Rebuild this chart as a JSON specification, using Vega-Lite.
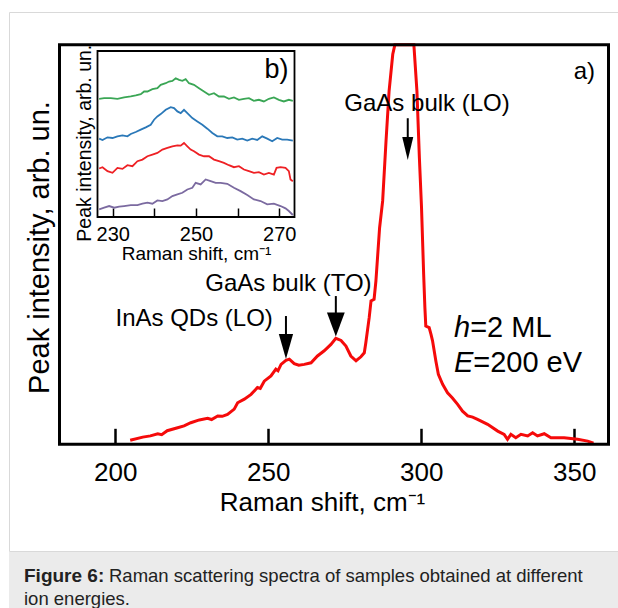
{
  "$schema": "https://vega.github.io/schema/vega-lite/v6.json",
  "padding": {"left": 8, "top": 11, "right": 0, "bottom": 0},
  "background": "white",
  "spacing": 0,
  "config": {
    "font": "Liberation Sans",
    "axis": {"labelColor": "black", "titleColor": "black", "titleFontWeight": "normal", "tickColor": "black", "labelFont": "Liberation Sans", "titleFont": "Liberation Sans"},
    "text": {"font": "Liberation Sans", "color": "black"}
  },
  "datasets": {
    "main": [
      {"shift": 204.9, "intensity": 1.0}, {"shift": 209.0, "intensity": 1.8}, {"shift": 211.5, "intensity": 2.1},
      {"shift": 213.9, "intensity": 2.65}, {"shift": 215.2, "intensity": 2.4}, {"shift": 217.0, "intensity": 3.4},
      {"shift": 220.4, "intensity": 4.15}, {"shift": 222.5, "intensity": 4.6}, {"shift": 224.7, "intensity": 5.4},
      {"shift": 227.5, "intensity": 6.1}, {"shift": 230.2, "intensity": 6.5}, {"shift": 231.5, "intensity": 6.2},
      {"shift": 233.5, "intensity": 7.1}, {"shift": 235.0, "intensity": 7.0}, {"shift": 236.7, "intensity": 7.5},
      {"shift": 238.9, "intensity": 8.8}, {"shift": 240.0, "intensity": 10.4}, {"shift": 242.2, "intensity": 11.3},
      {"shift": 244.4, "intensity": 12.5}, {"shift": 246.5, "intensity": 14.2}, {"shift": 247.4, "intensity": 14.0},
      {"shift": 248.7, "intensity": 15.8}, {"shift": 250.9, "intensity": 17.1}, {"shift": 252.5, "intensity": 18.8},
      {"shift": 253.2, "intensity": 18.4}, {"shift": 254.2, "intensity": 20.0}, {"shift": 255.8, "intensity": 21.0},
      {"shift": 256.9, "intensity": 21.3}, {"shift": 258.5, "intensity": 20.2}, {"shift": 260.0, "intensity": 19.8},
      {"shift": 261.8, "intensity": 20.0}, {"shift": 264.0, "intensity": 20.4}, {"shift": 266.1, "intensity": 22.1},
      {"shift": 268.3, "intensity": 23.4}, {"shift": 270.5, "intensity": 25.0}, {"shift": 272.1, "intensity": 26.5},
      {"shift": 273.8, "intensity": 26.0}, {"shift": 275.4, "intensity": 24.6}, {"shift": 277.0, "intensity": 22.1},
      {"shift": 278.7, "intensity": 20.9}, {"shift": 280.3, "intensity": 21.9}, {"shift": 281.4, "intensity": 22.9},
      {"shift": 281.9, "intensity": 25.4}, {"shift": 283.0, "intensity": 31.7}, {"shift": 283.6, "intensity": 35.9},
      {"shift": 284.6, "intensity": 36.3}, {"shift": 285.2, "intensity": 40.9}, {"shift": 286.4, "intensity": 54.2},
      {"shift": 287.4, "intensity": 60.9}, {"shift": 288.5, "intensity": 75.9}, {"shift": 289.5, "intensity": 88.4},
      {"shift": 290.7, "intensity": 97.6}, {"shift": 291.4, "intensity": 103.0}, {"shift": 294.5, "intensity": 125.0},
      {"shift": 297.6, "intensity": 104.0}, {"shift": 298.6, "intensity": 88.4}, {"shift": 299.4, "intensity": 71.7},
      {"shift": 300.1, "intensity": 59.2}, {"shift": 300.8, "intensity": 42.5}, {"shift": 301.2, "intensity": 34.2},
      {"shift": 301.5, "intensity": 29.6}, {"shift": 302.6, "intensity": 29.2}, {"shift": 303.2, "intensity": 27.5},
      {"shift": 303.7, "intensity": 25.9}, {"shift": 304.8, "intensity": 20.8}, {"shift": 305.6, "intensity": 17.5},
      {"shift": 307.0, "intensity": 15.0}, {"shift": 308.6, "intensity": 12.9}, {"shift": 310.2, "intensity": 11.6},
      {"shift": 311.9, "intensity": 10.0}, {"shift": 313.5, "intensity": 8.3}, {"shift": 315.2, "intensity": 7.1},
      {"shift": 316.8, "intensity": 6.8}, {"shift": 318.4, "intensity": 6.25}, {"shift": 321.7, "intensity": 5.0},
      {"shift": 325.0, "intensity": 3.3}, {"shift": 327.1, "intensity": 2.5}, {"shift": 328.2, "intensity": 1.25},
      {"shift": 329.3, "intensity": 2.5}, {"shift": 330.9, "intensity": 1.65}, {"shift": 332.6, "intensity": 2.5},
      {"shift": 334.8, "intensity": 2.1}, {"shift": 336.4, "intensity": 2.9}, {"shift": 338.0, "intensity": 2.1},
      {"shift": 340.2, "intensity": 2.65}, {"shift": 342.4, "intensity": 1.65}, {"shift": 346.7, "intensity": 1.65},
      {"shift": 351.1, "intensity": 1.25}, {"shift": 354.4, "intensity": 0.8}, {"shift": 356.3, "intensity": 0.3}
    ],
    "inset": [
      {"sample": "s1", "shift": 226.75, "value": 71.2}, {"sample": "s1", "shift": 227.95, "value": 71.6},
      {"sample": "s1", "shift": 229.55, "value": 71.6}, {"sample": "s1", "shift": 231.14, "value": 71.2},
      {"sample": "s1", "shift": 232.74, "value": 72.0}, {"sample": "s1", "shift": 234.34, "value": 72.6},
      {"sample": "s1", "shift": 235.54, "value": 73.2}, {"sample": "s1", "shift": 236.74, "value": 74.0},
      {"sample": "s1", "shift": 237.54, "value": 75.6}, {"sample": "s1", "shift": 238.34, "value": 75.6},
      {"sample": "s1", "shift": 239.53, "value": 77.0}, {"sample": "s1", "shift": 240.73, "value": 77.6},
      {"sample": "s1", "shift": 241.53, "value": 79.6}, {"sample": "s1", "shift": 242.73, "value": 80.6},
      {"sample": "s1", "shift": 243.53, "value": 81.6}, {"sample": "s1", "shift": 244.33, "value": 82.0},
      {"sample": "s1", "shift": 245.13, "value": 83.6}, {"sample": "s1", "shift": 245.93, "value": 82.6},
      {"sample": "s1", "shift": 246.73, "value": 82.0}, {"sample": "s1", "shift": 247.52, "value": 83.0},
      {"sample": "s1", "shift": 248.32, "value": 80.6}, {"sample": "s1", "shift": 249.52, "value": 79.6},
      {"sample": "s1", "shift": 250.72, "value": 77.6}, {"sample": "s1", "shift": 251.92, "value": 75.6},
      {"sample": "s1", "shift": 253.12, "value": 73.6}, {"sample": "s1", "shift": 254.32, "value": 74.6},
      {"sample": "s1", "shift": 255.51, "value": 72.6}, {"sample": "s1", "shift": 256.71, "value": 72.6},
      {"sample": "s1", "shift": 257.91, "value": 71.2}, {"sample": "s1", "shift": 259.11, "value": 72.0},
      {"sample": "s1", "shift": 260.31, "value": 70.6}, {"sample": "s1", "shift": 261.51, "value": 71.2},
      {"sample": "s1", "shift": 262.71, "value": 71.6}, {"sample": "s1", "shift": 263.90, "value": 70.0},
      {"sample": "s1", "shift": 265.10, "value": 70.6}, {"sample": "s1", "shift": 266.30, "value": 69.6},
      {"sample": "s1", "shift": 267.50, "value": 71.2}, {"sample": "s1", "shift": 268.70, "value": 72.0},
      {"sample": "s1", "shift": 269.90, "value": 70.6}, {"sample": "s1", "shift": 271.09, "value": 69.6},
      {"sample": "s1", "shift": 272.29, "value": 70.6}, {"sample": "s1", "shift": 273.25, "value": 70.0},

      {"sample": "s2", "shift": 226.75, "value": 47.2}, {"sample": "s2", "shift": 227.55, "value": 46.4},
      {"sample": "s2", "shift": 228.75, "value": 48.0}, {"sample": "s2", "shift": 229.95, "value": 47.6},
      {"sample": "s2", "shift": 231.14, "value": 48.6}, {"sample": "s2", "shift": 232.34, "value": 49.2},
      {"sample": "s2", "shift": 233.54, "value": 48.6}, {"sample": "s2", "shift": 234.34, "value": 50.0},
      {"sample": "s2", "shift": 235.54, "value": 51.2}, {"sample": "s2", "shift": 236.74, "value": 52.6},
      {"sample": "s2", "shift": 237.94, "value": 54.0}, {"sample": "s2", "shift": 239.13, "value": 55.6},
      {"sample": "s2", "shift": 239.93, "value": 58.6}, {"sample": "s2", "shift": 240.73, "value": 60.6},
      {"sample": "s2", "shift": 241.53, "value": 62.0}, {"sample": "s2", "shift": 242.73, "value": 64.6},
      {"sample": "s2", "shift": 243.93, "value": 66.2}, {"sample": "s2", "shift": 244.73, "value": 65.6},
      {"sample": "s2", "shift": 245.53, "value": 63.6}, {"sample": "s2", "shift": 246.33, "value": 62.6},
      {"sample": "s2", "shift": 247.12, "value": 64.6}, {"sample": "s2", "shift": 247.92, "value": 62.6},
      {"sample": "s2", "shift": 249.12, "value": 59.6}, {"sample": "s2", "shift": 250.32, "value": 57.6},
      {"sample": "s2", "shift": 251.52, "value": 55.6}, {"sample": "s2", "shift": 252.72, "value": 53.2},
      {"sample": "s2", "shift": 253.92, "value": 50.6}, {"sample": "s2", "shift": 255.11, "value": 48.6},
      {"sample": "s2", "shift": 256.31, "value": 48.6}, {"sample": "s2", "shift": 257.51, "value": 47.6},
      {"sample": "s2", "shift": 258.71, "value": 48.0}, {"sample": "s2", "shift": 259.91, "value": 46.6},
      {"sample": "s2", "shift": 261.11, "value": 47.2}, {"sample": "s2", "shift": 262.31, "value": 46.0},
      {"sample": "s2", "shift": 263.50, "value": 47.2}, {"sample": "s2", "shift": 264.70, "value": 46.4},
      {"sample": "s2", "shift": 265.90, "value": 48.6}, {"sample": "s2", "shift": 267.10, "value": 47.2},
      {"sample": "s2", "shift": 268.30, "value": 45.6}, {"sample": "s2", "shift": 269.50, "value": 47.6},
      {"sample": "s2", "shift": 270.70, "value": 46.6}, {"sample": "s2", "shift": 271.89, "value": 46.6},
      {"sample": "s2", "shift": 273.25, "value": 46.0},

      {"sample": "s3", "shift": 226.75, "value": 29.2}, {"sample": "s3", "shift": 227.55, "value": 30.0},
      {"sample": "s3", "shift": 228.75, "value": 27.6}, {"sample": "s3", "shift": 229.95, "value": 26.6},
      {"sample": "s3", "shift": 231.14, "value": 29.6}, {"sample": "s3", "shift": 232.34, "value": 29.0},
      {"sample": "s3", "shift": 233.54, "value": 31.2}, {"sample": "s3", "shift": 234.74, "value": 30.6},
      {"sample": "s3", "shift": 235.94, "value": 33.6}, {"sample": "s3", "shift": 237.14, "value": 34.6},
      {"sample": "s3", "shift": 238.34, "value": 36.6}, {"sample": "s3", "shift": 239.53, "value": 37.6},
      {"sample": "s3", "shift": 240.73, "value": 38.6}, {"sample": "s3", "shift": 241.93, "value": 40.6},
      {"sample": "s3", "shift": 243.13, "value": 41.6}, {"sample": "s3", "shift": 244.33, "value": 42.6},
      {"sample": "s3", "shift": 245.53, "value": 43.2}, {"sample": "s3", "shift": 246.33, "value": 43.0},
      {"sample": "s3", "shift": 247.12, "value": 44.6}, {"sample": "s3", "shift": 247.92, "value": 42.6},
      {"sample": "s3", "shift": 248.72, "value": 40.6}, {"sample": "s3", "shift": 249.52, "value": 39.6},
      {"sample": "s3", "shift": 250.72, "value": 37.6}, {"sample": "s3", "shift": 251.92, "value": 36.6},
      {"sample": "s3", "shift": 253.12, "value": 36.6}, {"sample": "s3", "shift": 254.32, "value": 34.6},
      {"sample": "s3", "shift": 255.51, "value": 33.6}, {"sample": "s3", "shift": 256.71, "value": 32.6},
      {"sample": "s3", "shift": 257.91, "value": 31.2}, {"sample": "s3", "shift": 259.11, "value": 30.0},
      {"sample": "s3", "shift": 260.31, "value": 30.6}, {"sample": "s3", "shift": 261.51, "value": 28.6},
      {"sample": "s3", "shift": 262.71, "value": 27.6}, {"sample": "s3", "shift": 263.90, "value": 26.6},
      {"sample": "s3", "shift": 265.10, "value": 27.0}, {"sample": "s3", "shift": 266.30, "value": 25.6},
      {"sample": "s3", "shift": 267.50, "value": 26.6}, {"sample": "s3", "shift": 268.70, "value": 25.6},
      {"sample": "s3", "shift": 269.34, "value": 29.6}, {"sample": "s3", "shift": 270.30, "value": 30.0},
      {"sample": "s3", "shift": 271.49, "value": 29.6}, {"sample": "s3", "shift": 272.29, "value": 27.6},
      {"sample": "s3", "shift": 272.69, "value": 22.6}, {"sample": "s3", "shift": 273.25, "value": 21.6},

      {"sample": "s4", "shift": 226.75, "value": 4.6}, {"sample": "s4", "shift": 227.95, "value": 5.6},
      {"sample": "s4", "shift": 229.15, "value": 6.6}, {"sample": "s4", "shift": 230.35, "value": 5.6},
      {"sample": "s4", "shift": 231.54, "value": 6.2}, {"sample": "s4", "shift": 232.74, "value": 6.6},
      {"sample": "s4", "shift": 234.34, "value": 7.2}, {"sample": "s4", "shift": 235.94, "value": 7.2},
      {"sample": "s4", "shift": 237.14, "value": 8.0}, {"sample": "s4", "shift": 238.34, "value": 8.6},
      {"sample": "s4", "shift": 239.53, "value": 8.0}, {"sample": "s4", "shift": 240.73, "value": 10.0},
      {"sample": "s4", "shift": 241.93, "value": 9.6}, {"sample": "s4", "shift": 243.13, "value": 10.6},
      {"sample": "s4", "shift": 244.33, "value": 12.6}, {"sample": "s4", "shift": 245.53, "value": 13.6},
      {"sample": "s4", "shift": 246.73, "value": 14.6}, {"sample": "s4", "shift": 247.92, "value": 16.6},
      {"sample": "s4", "shift": 249.12, "value": 17.6}, {"sample": "s4", "shift": 249.92, "value": 20.6},
      {"sample": "s4", "shift": 251.12, "value": 19.6}, {"sample": "s4", "shift": 252.32, "value": 22.6},
      {"sample": "s4", "shift": 253.52, "value": 21.6}, {"sample": "s4", "shift": 254.72, "value": 20.6},
      {"sample": "s4", "shift": 255.91, "value": 20.6}, {"sample": "s4", "shift": 257.51, "value": 20.0},
      {"sample": "s4", "shift": 259.11, "value": 17.6}, {"sample": "s4", "shift": 260.71, "value": 15.6},
      {"sample": "s4", "shift": 262.31, "value": 13.2}, {"sample": "s4", "shift": 263.90, "value": 10.6},
      {"sample": "s4", "shift": 265.50, "value": 9.6}, {"sample": "s4", "shift": 267.10, "value": 7.6},
      {"sample": "s4", "shift": 268.70, "value": 8.0}, {"sample": "s4", "shift": 270.30, "value": 6.6},
      {"sample": "s4", "shift": 271.49, "value": 5.2}, {"sample": "s4", "shift": 272.29, "value": 3.6},
      {"sample": "s4", "shift": 273.25, "value": 1.2}
    ],
    "arrows": [
      {"label": "InAs QDs (LO)", "x": 255.8, "top": 32.1, "head": 24.5},
      {"label": "GaAs bulk (TO)", "x": 272.1, "top": 37.1, "head": 30.0},
      {"label": "GaAs bulk (LO)", "x": 295.6, "top": 81.6, "head": 74.0}
    ],
    "notes": [
      {"text": "InAs QDs (LO)", "x": 225.8, "y": 31.3},
      {"text": "GaAs bulk (TO)", "x": 256.6, "y": 40.0},
      {"text": "GaAs bulk (LO)", "x": 301.9, "y": 85.1},
      {"text": "a)", "x": 353.3, "y": 93.2}
    ],
    "params_italic": [
      {"text": "h", "x": 310.7, "y": 29.1},
      {"text": "E", "x": 310.7, "y": 20.3}
    ],
    "params_plain": [
      {"text": "=2 ML", "x": 316.0, "y": 29.1},
      {"text": "=200 eV", "x": 317.0, "y": 20.3}
    ],
    "caption": [
      {"line": 1, "part": "lead", "text": "Figure 6:"},
      {"line": 1, "part": "body", "text": "Raman scattering spectra of samples obtained at different"},
      {"line": 2, "part": "body", "text": "ion energies."}
    ]
  },
  "vconcat": [
    {
      "width": 610,
      "height": 539,
      "view": {"stroke": "#d9d9d9", "strokeWidth": 1},
      "resolve": {
        "scale": {"x": "independent", "y": "independent"},
        "axis": {"x": "independent", "y": "independent"}
      },
      "layer": [
        {
          "layer": [
            {
              "data": {"name": "main"},
              "mark": {"type": "line", "color": "#f50a0a", "strokeWidth": 3},
              "encoding": {
                "x": {
                  "field": "shift", "type": "quantitative",
                  "scale": {"domain": [181.8, 361.2], "range": [50.5, 599.5], "nice": false, "zero": false},
                  "axis": {
                    "orient": "bottom", "offset": -106.7, "values": [200, 250, 300, 350],
                    "domain": false, "grid": false, "tickSize": -16, "tickWidth": 2.5,
                    "labelFontSize": 26, "labelPadding": 31,
                    "title": "Raman shift, cm⁻¹", "titleFontSize": 26, "titlePadding": 4, "titleX": 313
                  }
                },
                "y": {
                  "field": "intensity", "type": "quantitative",
                  "scale": {"domain": [0, 100], "range": [432.3, 32.7], "clamp": true, "nice": false, "zero": false},
                  "axis": {
                    "orient": "left", "offset": -50.5, "domain": false, "ticks": false, "labels": false, "grid": false,
                    "title": "Peak intensity, arb. un.", "titleFontSize": 29, "titlePadding": 5, "titleY": 235
                  }
                }
              }
            },
            {
              "data": {"name": "arrows"},
              "mark": {"type": "rule", "color": "black", "strokeWidth": 2},
              "encoding": {
                "x": {"field": "x", "type": "quantitative"},
                "y": {"field": "top", "type": "quantitative"},
                "y2": {"field": "head"}
              }
            },
            {
              "data": {"name": "arrows"},
              "mark": {"type": "point", "filled": true, "color": "black", "opacity": 1, "strokeWidth": 0},
              "encoding": {
                "x": {"field": "x", "type": "quantitative"},
                "y": {"field": "head", "type": "quantitative"},
                "shape": {
                  "field": "label", "type": "nominal", "legend": null,
                  "scale": {
                    "domain": ["InAs QDs (LO)", "GaAs bulk (TO)", "GaAs bulk (LO)"],
                    "range": ["M-0.57,-1L0.57,-1L0,1Z", "M-0.74,-1L0.74,-1L0,1Z", "M-0.48,-1L0.48,-1L0,1Z"]
                  }
                },
                "size": {
                  "field": "label", "type": "ordinal", "legend": null,
                  "scale": {
                    "domain": ["InAs QDs (LO)", "GaAs bulk (TO)", "GaAs bulk (LO)"],
                    "range": [625, 529, 441]
                  }
                }
              }
            },
            {
              "data": {"name": "notes"},
              "mark": {"type": "text", "fontSize": 24, "align": "center", "baseline": "middle"},
              "encoding": {
                "x": {"field": "x", "type": "quantitative"},
                "y": {"field": "y", "type": "quantitative"},
                "text": {"field": "text"}
              }
            },
            {
              "data": {"name": "params_italic"},
              "mark": {"type": "text", "fontSize": 29, "fontStyle": "italic", "align": "left", "baseline": "middle"},
              "encoding": {
                "x": {"field": "x", "type": "quantitative"},
                "y": {"field": "y", "type": "quantitative"},
                "text": {"field": "text"}
              }
            },
            {
              "data": {"name": "params_plain"},
              "mark": {"type": "text", "fontSize": 29, "align": "left", "baseline": "middle"},
              "encoding": {
                "x": {"field": "x", "type": "quantitative"},
                "y": {"field": "y", "type": "quantitative"},
                "text": {"field": "text"}
              }
            },
            {
              "data": {"values": [{}]},
              "mark": {"type": "rect", "fillOpacity": 0, "stroke": "black", "strokeWidth": 3},
              "encoding": {
                "x": {"datum": 181.8, "type": "quantitative"},
                "x2": {"datum": 361.2},
                "y": {"datum": 0, "type": "quantitative"},
                "y2": {"datum": 100}
              }
            }
          ]
        },
        {
          "layer": [
            {
              "data": {"name": "inset"},
              "mark": {"type": "line", "strokeWidth": 1.8},
              "encoding": {
                "x": {
                  "field": "shift", "type": "quantitative",
                  "scale": {"domain": [226.35, 273.65], "range": [88.5, 285.5], "nice": false, "zero": false},
                  "axis": {
                    "orient": "bottom", "offset": -334, "values": [230, 240, 250, 260, 270],
                    "labelExpr": "datum.value % 20 == 10 ? datum.label : ''",
                    "domain": false, "grid": false, "tickSize": -9, "tickWidth": 1.5,
                    "labelFontSize": 20, "labelPadding": 16,
                    "title": "Raman shift, cm⁻¹", "titleFontSize": 19, "titlePadding": 0
                  }
                },
                "y": {
                  "field": "value", "type": "quantitative",
                  "scale": {"domain": [0, 100], "range": [205, 39], "nice": false, "zero": false},
                  "axis": {
                    "orient": "left", "offset": -88.5, "domain": false, "ticks": false, "labels": false, "grid": false,
                    "title": "Peak intensity, arb. un.", "titleFontSize": 19.5, "titlePadding": 3, "titleY": 130.7
                  }
                },
                "color": {
                  "field": "sample", "type": "nominal", "legend": null,
                  "scale": {"domain": ["s1", "s2", "s3", "s4"], "range": ["#3aa655", "#2a78b8", "#ee2024", "#7b6aa0"]}
                }
              }
            },
            {
              "data": {"values": [{"text": "b)", "x": 269.35, "y": 88.6}]},
              "mark": {"type": "text", "fontSize": 27, "align": "center", "baseline": "middle"},
              "encoding": {
                "x": {"field": "x", "type": "quantitative"},
                "y": {"field": "y", "type": "quantitative"},
                "text": {"field": "text"}
              }
            },
            {
              "data": {"values": [{}]},
              "mark": {"type": "rect", "fillOpacity": 0, "stroke": "black", "strokeWidth": 1.8},
              "encoding": {
                "x": {"datum": 226.35, "type": "quantitative"},
                "x2": {"datum": 273.65},
                "y": {"datum": 0, "type": "quantitative"},
                "y2": {"datum": 100}
              }
            }
          ]
        }
      ]
    },
    {
      "width": 610,
      "height": 58,
      "view": {"fill": "#ebebeb", "stroke": null},
      "data": {"name": "caption"},
      "encoding": {
        "x": {"datum": 0, "type": "quantitative", "scale": {"domain": [0, 1], "range": [15, 610]}, "axis": null},
        "y": {"field": "line", "type": "quantitative", "scale": {"domain": [1, 2], "range": [24, 47]}, "axis": null},
        "text": {"field": "text"}
      },
      "layer": [
        {
          "transform": [{"filter": "datum.part == 'lead'"}],
          "mark": {"type": "text", "align": "left", "baseline": "middle", "fontSize": 19, "fontWeight": "bold", "color": "#222222"}
        },
        {
          "transform": [{"filter": "datum.part == 'body' && datum.line == 1"}],
          "mark": {"type": "text", "align": "left", "baseline": "middle", "fontSize": 18.5, "dx": 85, "color": "#222222"}
        },
        {
          "transform": [{"filter": "datum.part == 'body' && datum.line == 2"}],
          "mark": {"type": "text", "align": "left", "baseline": "middle", "fontSize": 18.5, "color": "#222222"}
        }
      ]
    }
  ]
}
